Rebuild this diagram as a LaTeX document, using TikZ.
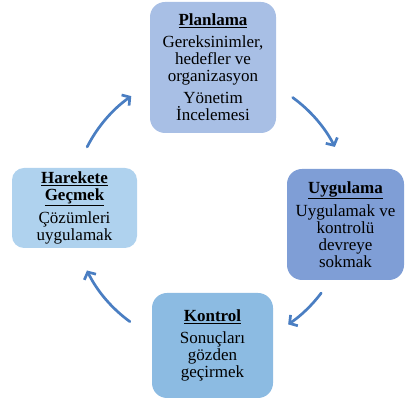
\documentclass[tikz,border=0pt]{standalone}
\usepackage{fontspec}
\setmainfont{Liberation Serif}
\usetikzlibrary{arrows.meta,calc}

\definecolor{planFill}{HTML}{A8BFE5}
\definecolor{uygFill}{HTML}{7F9ED6}
\definecolor{kontFill}{HTML}{8CBBE2}
\definecolor{harFill}{HTML}{AFD2EE}
\definecolor{arrowBlue}{HTML}{4A7EC2}

\begin{document}
\begin{tikzpicture}[x=1pt, y=1pt, >=Latex, line cap=round, line join=round]

% ---------- styles ----------
\tikzset{
  cycBox/.style   ={rounded corners=15pt, inner sep=0pt, align=center,
                    font=\fontsize{17}{17}\selectfont},
  cycArrow/.style ={draw=arrowBlue, line width=2.7pt,
                    -{Straight Barb[length=5.5pt,width=13pt]}}
}

\useasboundingbox (0,0) rectangle (406,403);

% ---------- cycle boxes ----------
\node[cycBox, fill=planFill, minimum width=126pt, minimum height=131pt]
  (planlama) at (213,335.5)
  {\underline{\textbf{Planlama}}\\[5pt]
   Gereksinimler,\\ hedefler ve\\ organizasyon\\[5pt]
   Yönetim\\ İncelemesi};

\node[cycBox, fill=uygFill, minimum width=117pt, minimum height=111pt]
  (uygulama) at (345.5,178.5)
  {\underline{\textbf{Uygulama}}\\[5pt]
   Uygulamak ve\\ kontrolü\\ devreye\\ sokmak};

\node[cycBox, fill=kontFill, minimum width=121pt, minimum height=105pt]
  (kontrol) at (212.5,57.5)
  {\underline{\textbf{Kontrol}}\\[5pt]
   Sonuçları\\ gözden\\ geçirmek};

\node[cycBox, rounded corners=12pt, fill=harFill, minimum width=125pt, minimum height=80pt]
  (harekete) at (74.5,195)
  {\underline{\textbf{Harekete}}\\ \underline{\textbf{Geçmek}}\\[5pt]
   Çözümleri\\ uygulamak};

% ---------- cycle arrows (arcs round the hub) ----------
\coordinate (hub) at (211,193);

\draw[cycArrow] ($(hub)+(153:139pt)$) arc[start angle=153, end angle=125, radius=139pt];
\draw[cycArrow] ($(hub)+(54:139pt)$)  arc[start angle=54,  end angle=27,  radius=139pt];
\draw[cycArrow] ($(hub)+(-37:138pt)$) arc[start angle=-37, end angle=-56, radius=138pt];
\draw[cycArrow] ($(hub)+(234:138pt)$) arc[start angle=234, end angle=206, radius=138pt];

\end{tikzpicture}
\end{document}
